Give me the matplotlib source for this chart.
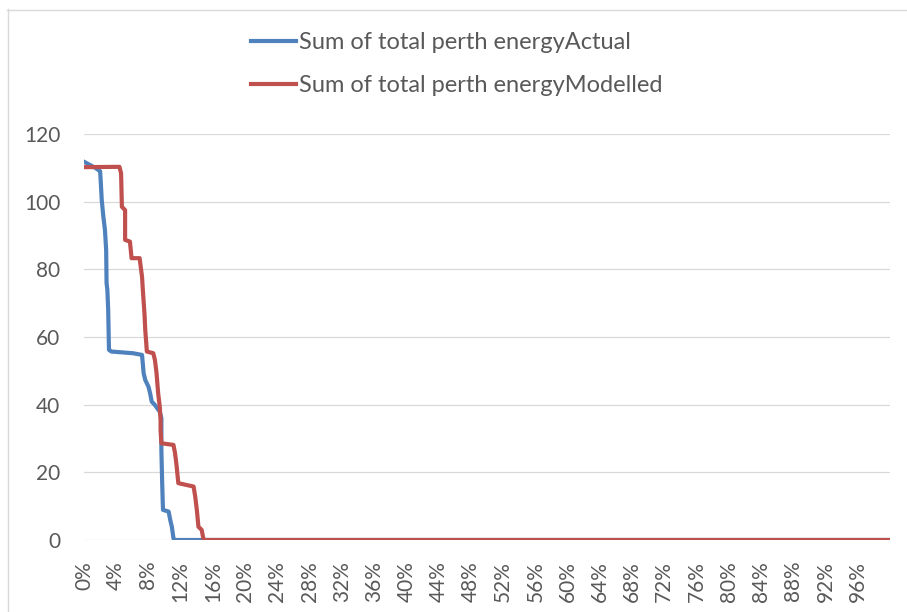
import numpy as np
import matplotlib.pyplot as plt
from matplotlib.lines import Line2D

plt.rcParams['font.family'] = ['Lato', 'DejaVu Sans']

# Breakpoints (x in % of time, y = energy)
actual_pct = [0, 1.4, 2.0, 2.1, 2.2, 2.4, 2.6, 2.75, 2.8, 2.9, 3.0, 3.1, 3.4,
              6.1, 7.2, 7.4, 7.6, 8.0, 8.2, 8.4, 8.8, 9.4, 9.6, 9.6, 9.7, 9.8,
              10.5, 10.7, 10.9, 11.1, 11.2, 100]
actual_val = [111.8, 110, 109, 105, 100.5, 95.6, 91.6, 85.7, 76, 73.9, 68, 56.2, 55.7,
              55.2, 54.7, 49.3, 47.3, 45.3, 43.4, 40.9, 39.9, 37.9, 36, 26.6, 16.8, 8.9,
              8.4, 5.9, 3.9, 0.5, 0, 0]

modelled_pct = [0, 4.4, 4.6, 4.7, 5.1, 5.1, 5.7, 5.9, 6.9, 7.2, 7.3, 7.5, 7.6, 7.8,
                8.6, 8.8, 9.0, 9.2, 9.4, 9.5, 9.5, 9.6, 11.1, 11.3, 11.5, 11.7,
                13.6, 13.8, 14.0, 14.2, 14.6, 14.8, 14.9, 100]
modelled_val = [110.2, 110.3, 108.4, 98.5, 97.5, 88.7, 88.2, 83.3, 83.3, 77.8, 73.9, 67, 62.1, 55.7,
                55.2, 53.2, 49.3, 43.4, 39.4, 35.5, 32.5, 28.6, 28.1, 25.6, 21.7, 16.8,
                15.8, 12.8, 8.9, 3.9, 3.0, 0.5, 0, 0]

x_ticks = list(range(0, 100, 4))
x_labels = [f"{t}%" for t in x_ticks]
y_ticks = [0, 20, 40, 60, 80, 100, 120]

text_col = '#595959'
grid_col = '#d9d9d9'

fig = plt.figure(figsize=(9.07, 6.12), dpi=100)
ax = fig.add_axes([84 / 907, 72 / 612, 806 / 907, 406 / 612])

ax.plot(actual_pct, actual_val, color='#4F81BD', lw=3,
        label='Sum of total perth energyActual')
ax.plot(modelled_pct, modelled_val, color='#C0504D', lw=3,
        label='Sum of total perth energyModelled')

ax.set_xlim(0, 100)
ax.set_ylim(0, 120)
ax.set_xticks(x_ticks)
ax.set_xticklabels(x_labels, rotation=90, va='top', ha='center')
ax.set_yticks(y_ticks)
ax.tick_params(axis='both', length=0, labelsize=15, labelcolor=text_col)
ax.tick_params(axis='x', pad=15)
ax.tick_params(axis='y', pad=17)
ax.grid(axis='y', color=grid_col, lw=0.9)
ax.set_axisbelow(True)
for s in ax.spines.values():
    s.set_visible(False)

leg = fig.legend(loc='upper left', bbox_to_anchor=(251 / 907, 1 - 32 / 612),
                 frameon=False, fontsize=17, handlelength=1.9, handletextpad=0.12,
                 labelspacing=0.95, borderpad=0, borderaxespad=0)
for t in leg.get_texts():
    t.set_color(text_col)

# chart border (left and top edges visible in the reference)
fig.add_artist(Line2D([7.5 / 907, 7.5 / 907], [0, 1 - 9 / 612], color=grid_col, lw=1))
fig.add_artist(Line2D([7 / 907, 1], [1 - 9.5 / 612, 1 - 9.5 / 612], color=grid_col, lw=1))

fig.savefig('out.png', dpi=100)
